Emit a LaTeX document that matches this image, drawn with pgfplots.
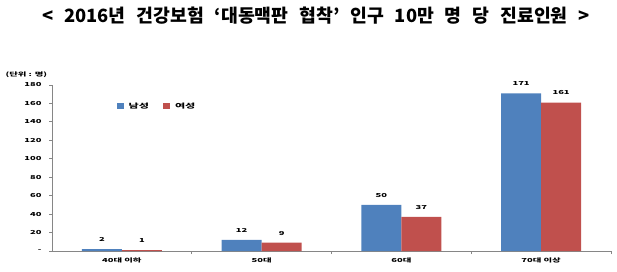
\documentclass[border=0pt]{standalone}
\usepackage{pgfplots}
\pgfplotsset{compat=1.18}
\usepackage{fontspec}
\setmainfont{Noto Sans CJK KR}
\newfontfamily\krt[WordSpace=2.6]{Noto Sans CJK KR}
\newfontfamily\krs[FakeStretch=1.7]{Noto Sans CJK KR}
\definecolor{cblue}{HTML}{4F81BD}
\definecolor{cred}{HTML}{C0504D}
\definecolor{cax}{HTML}{868686}
\begin{document}
\begin{tikzpicture}[x=1pt,y=1pt]
\useasboundingbox (0,0) rectangle (617,271);
\node[font=\krt\bfseries\fontsize{18.3}{19}\selectfont, anchor=center] at (316,255) {< 2016년 건강보험 ‘대동맥판 협착’ 인구 10만 명 당 진료인원 >};
\node[font=\krs\bfseries\fontsize{5.5}{6}\selectfont, anchor=west] at (2,196) {(단위 : 명)};
\begin{axis}[
  at={(52pt,20pt)}, anchor=south west,
  scale only axis, width=559pt, height=166pt,
  ybar=0pt, bar width=40pt,
  xmin=-0.5, xmax=3.5, ymin=0, ymax=180,
  axis x line*=bottom, axis y line*=left,
  axis line style={cax, line width=1pt},
  xtick={0,1,2,3},
  xticklabels={40대 이하,50대,60대,70대 이상},
  major x tick style={draw=none},
  minor xtick={0.5,1.5,2.5,3.5},
  minor x tick style={cax, line width=1pt},
  minor tick length=3pt,
  ytick={0,20,...,180},
  yticklabels={-,20,40,60,80,100,120,140,160,180},
  y tick style={cax, line width=1pt},
  tick align=outside, major tick length=3pt,
  tick label style={font=\krs\bfseries\fontsize{5.5}{6}\selectfont},
  yticklabel style={xshift=-4pt},
  /pgf/number format/assume math mode=true,
  nodes near coords,
  every node near coord/.append style={font=\krs\bfseries\fontsize{5.5}{6}\selectfont, yshift=4pt},
  legend style={draw=none, at={(0.11,0.873)}, anchor=west, legend columns=2,
    font=\krs\bfseries\fontsize{6.5}{7}\selectfont,
    /tikz/every odd column/.append style={column sep=3pt},
    /tikz/every even column/.append style={column sep=12pt}},
  legend image code/.code={\fill[#1] (0pt,-2.5pt) rectangle (7pt,3pt);},
]
\addplot[fill=cblue, draw=none] coordinates {(0,2) (1,12) (2,50) (3,171)};
\addplot[fill=cred, draw=none] coordinates {(0,1) (1,9) (2,37) (3,161)};
\legend{남성,여성}
\end{axis}
\end{tikzpicture}
\end{document}
